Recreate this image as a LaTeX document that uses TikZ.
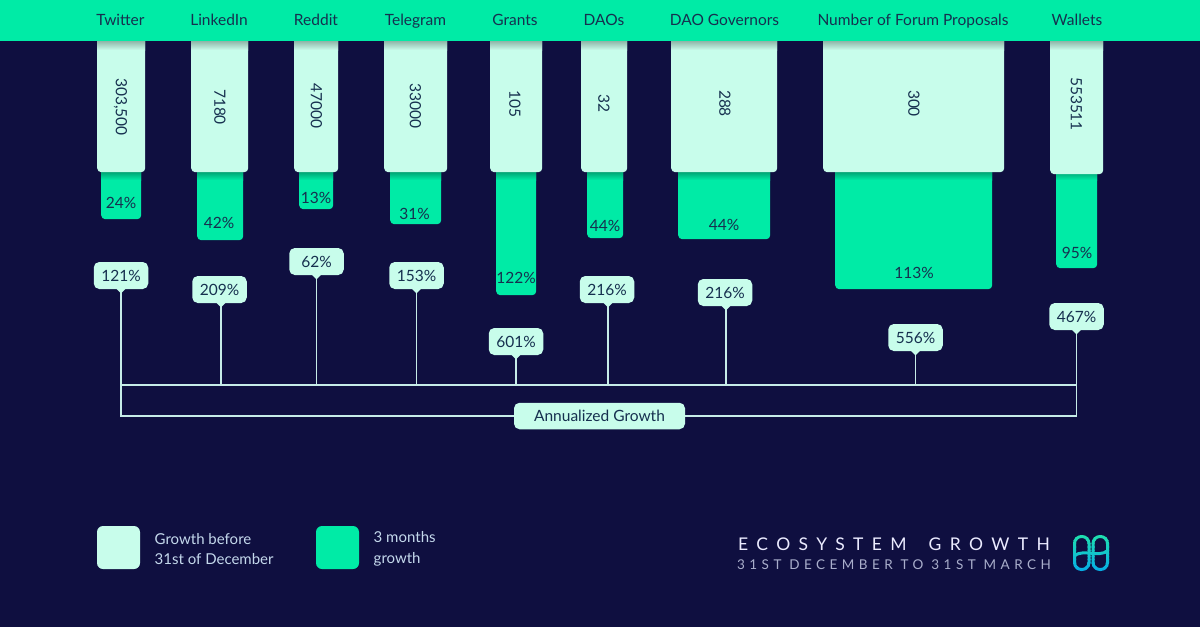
\documentclass[tikz,border=0pt]{standalone}
\usepackage{fontspec}
\setmainfont{Lato}
\newfontfamily\ttlfont[LetterSpace=48]{Lato}
\newfontfamily\subfont[LetterSpace=33]{Lato}
\usetikzlibrary{shapes.geometric}
\definecolor{bgnavy}{HTML}{0F0F40}
\definecolor{mint}{HTML}{00EBA6}
\definecolor{pale}{HTML}{C8FDEB}
\definecolor{ink}{HTML}{16304F}
\definecolor{wire}{HTML}{C6ECE8}
\definecolor{legtext}{HTML}{C4D8EC}
\definecolor{sublab}{HTML}{A9AECB}
\definecolor{logotop}{HTML}{1FE0AE}
\definecolor{logobot}{HTML}{06ADE6}
\tikzset{
  x=1pt,y=-1pt,
  lab/.style={font=\fontsize{15.5}{18}\selectfont,text=ink,inner sep=0pt,text height=11.2pt,text depth=0pt},
  head/.style={font=\fontsize{15.5}{18}\selectfont,text=ink,inner sep=0pt,text height=11.5pt,text depth=3.5pt},
  upper/.style={fill=pale,rounded corners=4pt,inner sep=0pt,anchor=north west},
  lower/.style={fill=mint,rounded corners=4pt,inner sep=0pt,anchor=north west},
  tag/.style={lab,fill=pale,rounded corners=5.5pt,minimum width=54.5pt,minimum height=27pt},
  tip/.style={fill=pale,inner sep=0pt,minimum size=9pt,diamond},
  wireline/.style={draw=wire,line width=1.5pt},
  legend/.style={font=\fontsize{15}{20.5}\selectfont,text=legtext,inner sep=0pt,anchor=west,align=left},
}
\begin{document}
\begin{tikzpicture}
\useasboundingbox (0,0) rectangle (1200,627);
\fill[bgnavy] (0,0) rectangle (1200,627);

% lower (green) bars
\foreach \nm/\xa/\xb/\yb in {gA/101/141/219,gB/197/243/240,gC/299/333/209,gD/390/441/224,gE/496/536/295,gF/587/623/238,gG/678/770/239,gH/835/992/289,gI/1056/1097/268}{
  \node[lower,minimum width=\xb pt-\xa pt,minimum height=\yb pt-160pt] (\nm) at (\xa,160) {};
  \shade[top color=black!30!mint,bottom color=mint] (\xa,172) rectangle (\xb,180);
}
% upper (pale) bars
\foreach \nm/\xa/\xb/\yb in {pA/97/145/172,pB/191/248/172,pC/294/338/172,pD/384/447/172,pE/490/542/172,pF/581/627/172,pG/671/777/172,pH/823/1004/172,pI/1050/1103/174}{
  \node[upper,minimum width=\xb pt-\xa pt,minimum height=\yb pt-30pt] (\nm) at (\xa,30) {};
  \shade[top color=black!28!pale,bottom color=pale] (\xa,41) rectangle (\xb,50);
}
% header band
\fill[mint] (0,0) rectangle (1200,41);
\foreach \nm/\xx/\tx in {hA/120.5/Twitter,hB/219/LinkedIn,hC/316/Reddit,hD/415.5/Telegram,hE/515/Grants,hF/604/DAOs,hG/724.5/DAO Governors,hH/913/Number of Forum Proposals,hI/1077/Wallets}{
  \node[head] (\nm) at (\xx,21) {\tx};
}
% values in pale bars
\foreach \nm/\xx/\yy/\tx in {vA/121.5/107/{303,500},vB/220/107/7180,vC/316.5/106/47000,vD/415.5/106/33000,vE/515/104/105,vF/604/103.5/32,vG/725/103.5/288,vH/914/103.5/300,vI/1076.5/104/553511}{
  \node[lab,rotate=-90] (\nm) at (\xx,\yy) {\tx};
}
% percentages in green bars
\foreach \nm/\xx/\yy/\tx in {wA/121/202.5/24,wB/219/222.5/42,wC/316/198/13,wD/414.5/213.5/31,wE/516/278/122,wF/605/225.5/44,wG/724/225/44,wH/914/273/113,wI/1077/253/95}{
  \node[lab] (\nm) at (\xx,\yy) {\tx\%};
}

% bracket
\coordinate (bl) at (121,385);
\coordinate (br) at (1076.5,385);
\coordinate (bbl) at (121,416);
\coordinate (bbr) at (1076.5,416);
\draw[wireline] (bbl) -- (bl) -- (br) -- (bbr) -- cycle;
\node[tag,minimum width=171pt,minimum height=26.5pt] (ann) at (599.5,416) {Annualized Growth};

% annualized growth tags
\foreach \nm/\xc/\lx/\yy/\tx in {tA/121/121/275.5/121,tB/219.5/221/289.5/209,tC/316.5/316.5/261.5/62,tD/416.5/416.5/275.5/153,tE/516/516/341.5/601,tF/607/608/289.5/216,tG/725/726/292.5/216,tH/915.5/915.5/337.5/556,tI/1076.5/1076.5/316.5/467}{
  \coordinate (\nm b) at (\lx,385);
  \coordinate (\nm t) at (\lx,\yy+13.5);
  \draw[wireline] (\nm t) -- (\nm b);
  \node[tip] at (\nm t) {};
  \node[tag] (\nm) at (\xc,\yy) {\tx\%};
}

% legend
\node[fill=pale,rounded corners=6pt,minimum size=43pt,inner sep=0pt] (lgA) at (118.5,547.5) {};
\node[fill=mint,rounded corners=6pt,minimum size=43pt,inner sep=0pt] (lgB) at (337.5,547.5) {};
\node[legend] (ltA) at (154.5,549) {Growth before\\31st of December};
\node[legend] (ltB) at (373.5,549) {3 months\\growth};

% title
\node[font=\fontsize{17.5}{20}\ttlfont,text=white!92!blue,inner sep=0pt,anchor=east] (ttl) at (1050,544) {ECOSYSTEM\hspace{9pt} GROWTH};
\node[font=\fontsize{13.5}{16}\subfont,text=sublab,inner sep=0pt,anchor=east] (sub) at (1051,565) {31ST DECEMBER TO 31ST MARCH};

% logo: two pills and a wave, coloured in bands from top to bottom
\foreach \i in {0,...,11}{
  \pgfmathsetmacro{\ya}{534+\i*3.2}
  \pgfmathsetmacro{\yb}{\ya+3.4}
  \pgfmathtruncatemacro{\mixv}{100-\i*9}
  \begin{scope}
    \clip (1065,\ya) rectangle (1115,\yb);
    \draw[logotop!\mixv!logobot,line width=3pt,rounded corners=7pt] (1074.5,536.5) rectangle (1089,569.5);
    \draw[logotop!\mixv!logobot,line width=3pt,rounded corners=7pt] (1093,536.5) rectangle (1107.5,569.5);
    \draw[logotop!\mixv!logobot,line width=3pt] (1074.5,555.5) .. controls (1084,549) and (1098,557.5) .. (1107.5,551);
  \end{scope}
}
\end{tikzpicture}
\end{document}
